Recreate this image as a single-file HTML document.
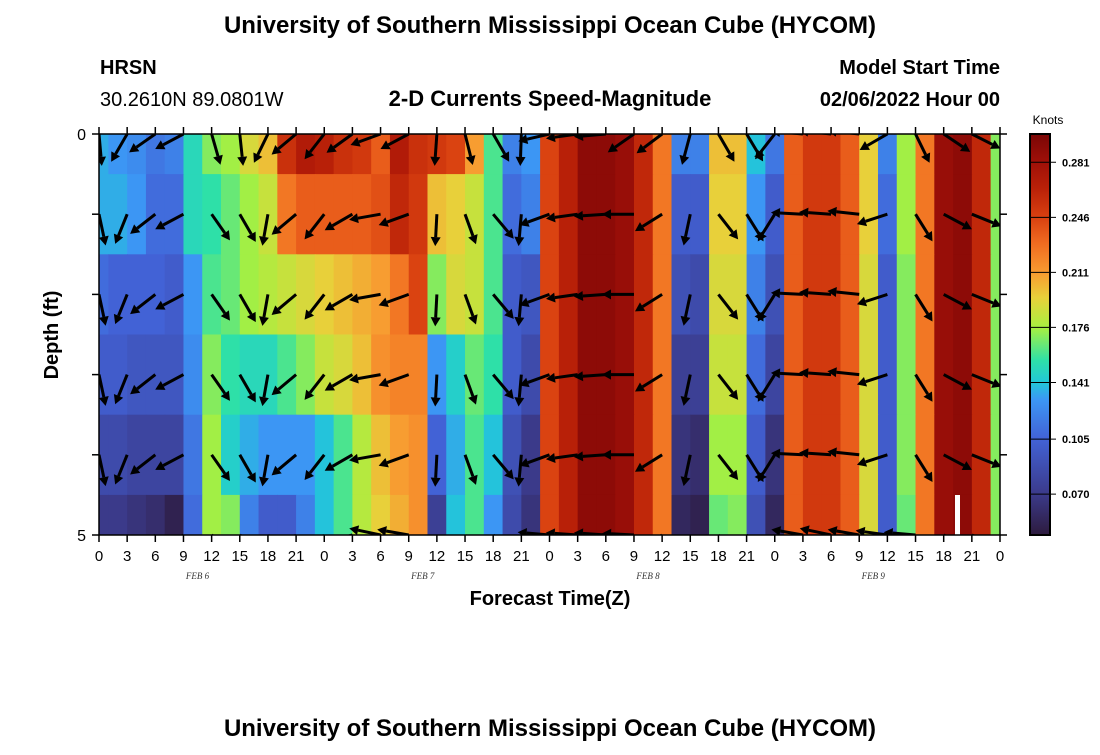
<!DOCTYPE html>
<html><head><meta charset="utf-8"><style>
body{margin:0;background:#fff;width:1100px;height:750px;overflow:hidden}
svg{font-family:"Liberation Sans",sans-serif}
</style></head><body>
<svg id="chart" width="1100" height="750" viewBox="0 0 1100 750">
<defs><clipPath id="pc"><rect x="99" y="134" width="901" height="401"/></clipPath>
<linearGradient id="cbg" x1="0" y1="1" x2="0" y2="0"></linearGradient></defs>
<text x="550" y="33" text-anchor="middle" font-size="24" font-weight="bold">University of Southern Mississippi Ocean Cube (HYCOM)</text>
<text x="100" y="74" font-size="20" font-weight="bold">HRSN</text>
<text x="100" y="106" font-size="20">30.2610N  89.0801W</text>
<text x="550" y="106" text-anchor="middle" font-size="22" font-weight="bold">2-D Currents Speed-Magnitude</text>
<text x="1000" y="74" text-anchor="end" font-size="20" font-weight="bold">Model Start Time</text>
<text x="1000" y="106" text-anchor="end" font-size="20" font-weight="bold">02/06/2022 Hour 00</text>
<g id="cells" clip-path="url(#pc)"></g>
<rect x="955" y="495" width="5" height="40" fill="#fff"/>
<g id="arrows" clip-path="url(#pc)"></g>
<rect x="99" y="134" width="901" height="401" fill="none" stroke="#000" stroke-width="1.5"/>
<g id="axes"></g>
<text transform="translate(58,335) rotate(-90)" text-anchor="middle" font-size="20" font-weight="bold">Depth (ft)</text>
<text x="550" y="605" text-anchor="middle" font-size="20" font-weight="bold">Forecast Time(Z)</text>
<text x="1048" y="124" text-anchor="middle" font-size="12">Knots</text>
<rect x="1030" y="134" width="20" height="401" fill="url(#cbg)" stroke="#000" stroke-width="2"/>
<g id="cbticks"></g>
<text x="550" y="736" text-anchor="middle" font-size="24" font-weight="bold">University of Southern Mississippi Ocean Cube (HYCOM)</text>
</svg>
<script>
// speed (knots) every 2 h, h0..h96, one array per depth level
const speedRow0=[0.135,0.13,0.125,0.115,0.12,0.15,0.17,0.175,0.19,0.2,0.255,0.27,0.265,0.255,0.25,0.235,0.27,0.255,0.25,0.245,0.21,0.16,0.12,0.13,0.245,0.265,0.29,0.29,0.285,0.26,0.225,0.12,0.12,0.2,0.2,0.14,0.115,0.235,0.25,0.25,0.235,0.195,0.12,0.175,0.225,0.285,0.29,0.26,0.17];
const speedRow1=[0.135,0.135,0.13,0.11,0.11,0.15,0.155,0.165,0.175,0.185,0.225,0.235,0.235,0.235,0.235,0.24,0.26,0.25,0.2,0.195,0.185,0.16,0.11,0.12,0.245,0.265,0.29,0.29,0.285,0.26,0.225,0.1,0.1,0.195,0.195,0.13,0.1,0.235,0.25,0.25,0.235,0.195,0.11,0.175,0.225,0.285,0.29,0.26,0.17];
const speedRow2=[0.11,0.105,0.105,0.105,0.1,0.13,0.16,0.165,0.175,0.18,0.185,0.19,0.195,0.2,0.205,0.21,0.225,0.245,0.17,0.19,0.185,0.16,0.1,0.095,0.245,0.265,0.29,0.29,0.285,0.26,0.225,0.09,0.085,0.19,0.19,0.12,0.09,0.235,0.25,0.25,0.235,0.19,0.1,0.17,0.225,0.285,0.29,0.26,0.17];
const speedRow3=[0.1,0.1,0.095,0.095,0.095,0.125,0.17,0.155,0.15,0.15,0.16,0.17,0.185,0.19,0.2,0.215,0.22,0.22,0.13,0.145,0.165,0.155,0.1,0.085,0.245,0.265,0.29,0.29,0.285,0.26,0.225,0.075,0.075,0.185,0.185,0.11,0.08,0.235,0.25,0.25,0.235,0.19,0.1,0.17,0.225,0.285,0.29,0.26,0.17];
const speedRow4=[0.085,0.085,0.08,0.08,0.08,0.115,0.175,0.145,0.135,0.13,0.13,0.13,0.14,0.16,0.18,0.2,0.21,0.215,0.105,0.135,0.16,0.14,0.09,0.07,0.245,0.265,0.29,0.29,0.285,0.26,0.225,0.065,0.06,0.175,0.175,0.1,0.065,0.235,0.25,0.25,0.235,0.19,0.1,0.17,0.225,0.285,0.29,0.26,0.17];
const speedRow5=[0.07,0.07,0.065,0.06,0.05,0.11,0.175,0.17,0.12,0.1,0.1,0.12,0.14,0.16,0.18,0.195,0.205,0.215,0.075,0.14,0.16,0.13,0.085,0.065,0.245,0.265,0.29,0.29,0.285,0.26,0.225,0.055,0.05,0.165,0.17,0.09,0.055,0.235,0.25,0.25,0.235,0.19,0.1,0.165,0.225,0.285,0.29,0.26,0.17];
// arrow direction (screen degrees, 0=east, 90=down) every 3 h, h0..h93
const dirSurface=[85,120,145,152,74,84,116,140,128,144,160,152,94,76,60,92,167,172,175,145,143,105,60,59,128,185,186,186,150,64,34,27];
const dirDeep=[78,112,142,152,55,60,100,140,128,150,170,160,93,70,50,95,160,172,176,180,148,102,52,58,122,183,184,186,162,58,28,22];
const dirBottom=[60,70,140,150,35,30,50,140,130,165,192,190,93,62,40,95,185,184,184,183,150,100,45,40,125,190,192,190,188,185,28,22];
const depthTicks=[0,1,2,3,4,5];
const depthLabels=["0","","","","","5"];
const hourTicks=[0,3,6,9,12,15,18,21,24,27,30,33,36,39,42,45,48,51,54,57,60,63,66,69,72,75,78,81,84,87,90,93,96];
const dayLabels=["FEB 6","FEB 7","FEB 8","FEB 9"];
const cbTicks=[0.281,0.246,0.211,0.176,0.141,0.105,0.070];

const NS="http://www.w3.org/2000/svg";
const X=h=>99+h*(901/96);
const Y=d=>134+d*80.2;
const VMIN=0.044,VMAX=0.299;
const CY=v=>535-(v-VMIN)/(VMAX-VMIN)*401;
const stopsV=[[0.044,[45,27,62]],[0.07,[59,58,138]],[0.105,[66,98,214]],[0.13,[60,150,244]],[0.141,[34,200,216]],[0.155,[46,224,168]],[0.176,[168,240,64]],[0.195,[232,208,58]],[0.211,[248,154,48]],[0.23,[240,106,32]],[0.246,[216,64,16]],[0.265,[184,32,8]],[0.281,[160,16,8]],[0.299,[122,6,6]]];
function col(v){if(v<=stopsV[0][0])return 'rgb('+stopsV[0][1].join(',')+')';for(let i=1;i<stopsV.length;i++){if(v<=stopsV[i][0]){const a=stopsV[i-1],b=stopsV[i],f=(v-a[0])/(b[0]-a[0]);return 'rgb('+a[1].map((c,k)=>Math.round(c+(b[1][k]-c)*f)).join(',')+')';}}return 'rgb(122,6,6)';}
function mk(tag,attrs,parent){const e=document.createElementNS(NS,tag);for(const k in attrs)e.setAttribute(k,attrs[k]);parent.appendChild(e);return e;}
const grad=document.getElementById('cbg');
stopsV.forEach(s=>{mk('stop',{offset:(s[0]-VMIN)/(VMAX-VMIN),'stop-color':'rgb('+s[1].join(',')+')'},grad);});
const rows=[speedRow0,speedRow1,speedRow2,speedRow3,speedRow4,speedRow5];
const cells=document.getElementById('cells');
rows.forEach((row,d)=>{row.forEach((v,i)=>{const h=i*2;
 const r=mk('rect',{x:X(h-1),y:Y(d-0.5),width:X(h+1)-X(h-1)+0.6,height:80.6,fill:col(v)},cells);
 
 });});
const arrows=document.getElementById('arrows');
function arrow(x,y,deg){const a=deg*Math.PI/180,L=32,ux=Math.cos(a),uy=Math.sin(a);
 const g=mk('g',{},arrows);
 
 
 const ex=x+ux*L,ey=y+uy*L,bx=ex-ux*9,by=ey-uy*9;
 mk('line',{x1:x,y1:y,x2:bx,y2:by,stroke:'#000','stroke-width':3},g);
 mk('polygon',{points:`${ex},${ey} ${bx-uy*5},${by+ux*5} ${bx+uy*5},${by-ux*5}`,fill:'#000'},g);}
for(let d=0;d<6;d++){const dirs=d==0?dirSurface:(d==5?dirBottom:dirDeep);
 dirs.forEach((deg,i)=>arrow(X(i*3),Y(d),deg));}
const ax=document.getElementById('axes');
depthTicks.forEach((d,i)=>{mk('line',{x1:92,y1:Y(d),x2:99,y2:Y(d),stroke:'#000','stroke-width':1.5},ax);
 mk('line',{x1:1000,y1:Y(d),x2:1007,y2:Y(d),stroke:'#000','stroke-width':1.5},ax);
 if(depthLabels[i]){const t=mk('text',{x:86,y:Y(d)+6,'text-anchor':'end','font-size':16},ax);t.textContent=depthLabels[i];
 
 }});
hourTicks.forEach(h=>{mk('line',{x1:X(h),y1:127,x2:X(h),y2:134,stroke:'#000','stroke-width':1.5},ax);
 mk('line',{x1:X(h),y1:535,x2:X(h),y2:542,stroke:'#000','stroke-width':1.5},ax);
 const t=mk('text',{x:X(h),y:561,'text-anchor':'middle','font-size':15},ax);t.textContent=String(h%24);
 
 });
dayLabels.forEach((s,i)=>{const t=mk('text',{x:X(i*24+10.5),y:579,'text-anchor':'middle','font-size':9,'font-style':'italic','font-family':'Liberation Serif, serif',fill:'#333'},ax);t.textContent=s;
 
 });
const cb=document.getElementById('cbticks');
cbTicks.forEach(v=>{mk('line',{x1:1030,y1:CY(v),x2:1056,y2:CY(v),stroke:'#000','stroke-width':1},cb);
 const t=mk('text',{x:1062,y:CY(v)+4,'font-size':11,'font-weight':'bold'},cb);t.textContent=v.toFixed(3);
 
 });
</script>
</body></html>
